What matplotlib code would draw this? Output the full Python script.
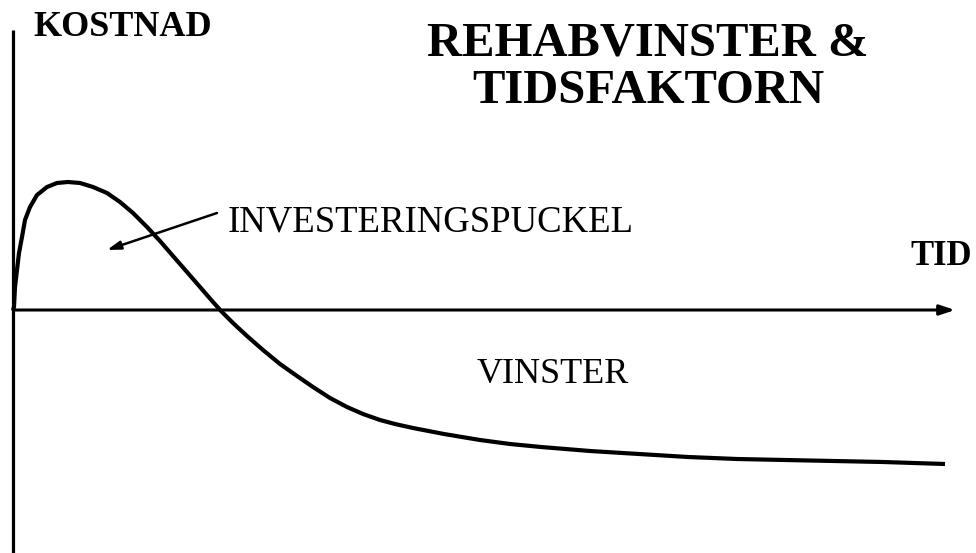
import matplotlib
matplotlib.use('Agg')
import matplotlib.pyplot as plt

# curve: time (from origin) and cost (above/below time axis)
tid = [0, 1, 2, 4, 6, 9, 12, 17, 24, 34, 44, 55, 67, 80, 94, 107, 120, 134, 147,
       160, 174, 187, 200, 209, 220, 234, 250, 267, 284, 300, 317, 334, 350, 367,
       382, 400, 431, 467, 497, 528, 577, 626, 675, 724, 772, 821, 870, 932]
kostnad = [0, 3, 23, 40, 57, 73, 90, 103, 115, 123, 127, 128, 127, 123, 117, 108,
           97, 83, 69, 54, 38, 23, 8, -2, -13, -26, -40, -54, -66, -77, -88, -97,
           -104, -110, -114, -118, -124, -130, -134, -137, -141, -144, -147,
           -149, -150, -151, -152, -154]

titel = ['REHABVINSTER &', 'TIDSFAKTORN']
y_label = 'KOSTNAD'
x_label = 'TID'
puckel_text = 'INVESTERINGSPUCKEL'
vinst_text = 'VINSTER'

plt.rcParams['font.family'] = ['Liberation Serif', 'DejaVu Serif']

fig = plt.figure(figsize=(9.76, 5.53), dpi=100)
ax = fig.add_axes([0, 0, 1, 1])
ax.set_xlim(-13, 963)
ax.set_ylim(-243, 310)
ax.axis('off')

# axes
ax.plot([0, 0], [-250, 280], color='black', lw=2.3, solid_capstyle='butt')
ax.annotate('', xy=(942, 0), xytext=(0, 0),
            arrowprops=dict(arrowstyle='-|>,head_length=0.9,head_width=0.3',
                            color='black', lw=2.2, shrinkA=0, shrinkB=0))

# curve
ax.plot(tid, kostnad, color='black', lw=3.0, solid_capstyle='butt',
        solid_joinstyle='round')

# pointer to the hump
ax.annotate('', xy=(94, 60), xytext=(204, 97),
            arrowprops=dict(arrowstyle='-|>,head_length=0.8,head_width=0.25',
                            color='black', lw=1.8, shrinkA=0, shrinkB=0))

ax.text(20, 274, y_label, fontsize=26, fontweight='bold', va='baseline', ha='left')
ax.text(635, 255, titel[0], fontsize=35, fontweight='bold', va='baseline', ha='center')
ax.text(635, 207, titel[1], fontsize=35, fontweight='bold', va='baseline', ha='center')
ax.text(897, 45, x_label, fontsize=25, fontweight='bold', va='baseline', ha='left')
ax.text(215, 78, puckel_text, fontsize=26.5, va='baseline', ha='left')
ax.text(464, -73, vinst_text, fontsize=26, va='baseline', ha='left')

fig.savefig('out.png', dpi=100)
